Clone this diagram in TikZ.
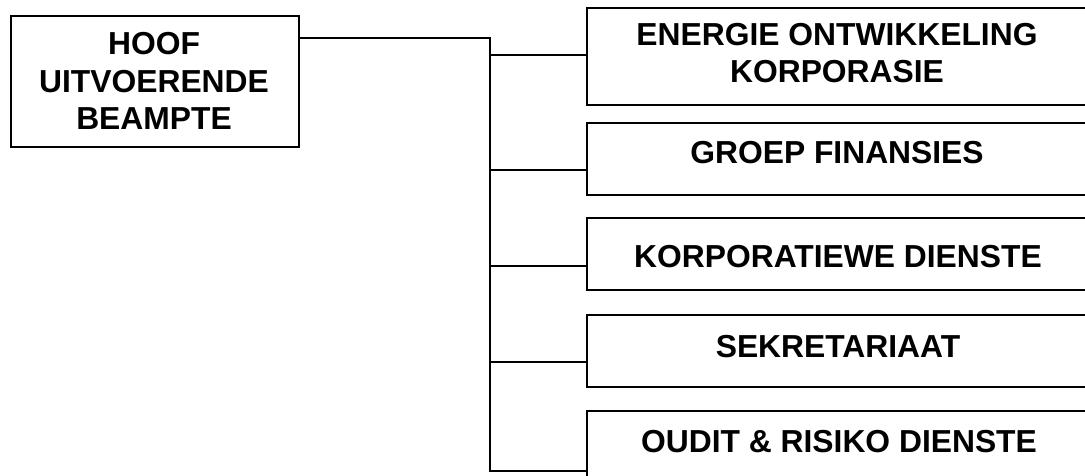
\documentclass[tikz,border=0pt]{standalone}
\usepackage{fontspec}
\setmainfont{Liberation Sans}
\begin{document}
\begin{tikzpicture}[x=1pt,y=-1pt,line width=2pt,
  box/.style={draw, inner sep=0pt, anchor=north west},
  lab/.style={font=\bfseries\fontsize{31.8}{37.5}\selectfont, inner sep=0pt, align=center, anchor=base}]
\useasboundingbox (0,0) rectangle (1085,476);
\clip (0,0) rectangle (1085,476);
% boxes
\node[box, minimum width=288pt, minimum height=131pt] (ceo) at (10,15) {};
\node[box, minimum width=520pt, minimum height=97pt] (b1) at (586,7) {};
\node[box, minimum width=520pt, minimum height=72pt] (b2) at (586,122) {};
\node[box, minimum width=520pt, minimum height=72pt] (b3) at (586,217) {};
\node[box, minimum width=520pt, minimum height=72pt] (b4) at (586,314) {};
\node[box, minimum width=520pt, minimum height=90pt] (b5) at (586,410) {};
% labels (anchor = baseline of the last line)
\node[lab] (tceo) at (154,130) {HOOF\\UITVOERENDE\\BEAMPTE};
\node[lab] (t1) at (837,83) {ENERGIE ONTWIKKELING\\KORPORASIE};
\node[lab] (t2) at (837,164) {GROEP FINANSIES};
\node[lab] (t3) at (838,267) {KORPORATIEWE DIENSTE};
\node[lab] (t4) at (838,357) {SEKRETARIAAT};
\node[lab] (t5) at (839,452) {OUDIT \& RISIKO DIENSTE};
% junctions on the trunk
\coordinate (j0) at (490,38);
\coordinate (j1) at (490,55);
\coordinate (j2) at (490,170);
\coordinate (j3) at (490,266);
\coordinate (j4) at (490,362);
\coordinate (j5) at (490,471);
% connectors
\draw (ceo.east |- j0) -- (j0) -- (j5) -- (b5.west |- j5);
\draw (j1) -- (b1.west |- j1);
\draw (j2) -- (b2.west |- j2);
\draw (j3) -- (b3.west |- j3);
\draw (j4) -- (b4.west |- j4);
\end{tikzpicture}
\end{document}
